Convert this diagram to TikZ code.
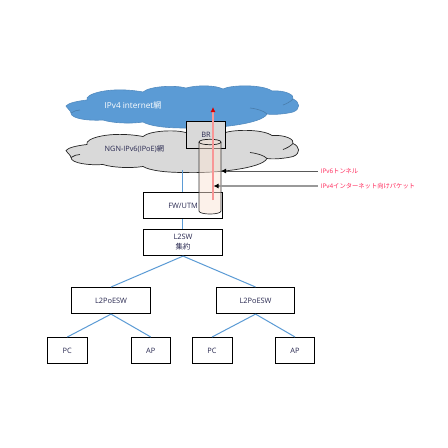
\documentclass[tikz,border=0pt]{standalone}
\usepackage{fontspec}
\usetikzlibrary{arrows.meta}
\setmainfont{Open Sans}
\newfontfamily\jp{Noto Sans CJK JP}
\definecolor{cloudblue}{RGB}{91,155,213}
\definecolor{cloudgray}{RGB}{217,217,217}
\definecolor{tunnelfill}{RGB}{251,229,214}
\definecolor{labelred}{RGB}{255,40,90}
\definecolor{boxtext}{RGB}{40,40,80}
\newcommand{\cloudoutline}{
 (66,106) .. controls (68,103) and (78,101) .. (87,100)
 .. controls (84,94) and (110,86) .. (143,92)
 .. controls (150,86) and (175,85) .. (186,88)
 .. controls (197,85) and (215,85) .. (223,89)
 .. controls (230,85) and (262,84) .. (272,91)
 .. controls (285,90) and (295,95) .. (293,99)
 .. controls (300,102) and (301,109) .. (293,112)
 .. controls (285,114) and (273,115) .. (267,114)
 .. controls (262,124) and (215,129) .. (185,128)
 .. controls (165,128) and (150,126) .. (143,122)
 .. controls (130,124) and (112,123) .. (103,120)
 .. controls (90,121) and (71,119) .. (71,113)
 .. controls (71,111) and (67,108) .. (66,106) -- cycle}
\newcommand{\cloudinner}{
 (71,113) .. controls (74,111) and (77,110) .. (80,110)
 (283,105) .. controls (286,104) and (290,102) .. (293,99)
 (250,108) .. controls (258,109) and (264,111) .. (267,114)}
\begin{document}
\begin{tikzpicture}[x=1pt,y=-1pt,
  boxnode/.style={draw=black,line width=1.1pt,fill=white,anchor=north west,inner sep=0pt,align=center,font=\fontsize{7.4}{10}\selectfont,text=boxtext},
  link/.style={color=cloudblue,line width=1pt},
  lead/.style={draw=black!65,line width=0.9pt,-{Latex[length=5pt,width=5pt,color=black]}},
  plainlabel/.style={anchor=west,inner sep=0pt},
  redlabel/.style={plainlabel,font=\fontsize{6.3}{8}\selectfont,text=labelred}]
\useasboundingbox (0,0) rectangle (448,448);
\fill[white] (0,0) rectangle (448,448);
\begin{scope}[shift={(0,44.5)}]
\draw[line width=0.7pt,draw=black!85,fill=cloudgray] \cloudoutline;
\draw[line width=0.7pt,draw=black!85] \cloudinner;
\end{scope}
\draw[line width=0.6pt,draw=cloudblue!90!black,fill=cloudblue] \cloudoutline;
\draw[line width=0.6pt,draw=cloudblue!80!black] \cloudinner;
\node[plainlabel,font=\fontsize{8.2}{10}\selectfont,text=white] (inet) at (104.5,105) {IPv4 internet{\jp 網}};
\node[plainlabel,font=\fontsize{7.3}{9}\selectfont,text=boxtext] (ngn) at (104.5,149.5) {NGN-IPv6(IPoE){\jp 網}};
% boxes
\node[boxnode,fill=cloudgray,minimum width=39pt,minimum height=27.5pt] (br) at (186,120.5) {BR};
\node[boxnode,minimum width=79pt,minimum height=26pt] (fw) at (143,192) {FW/UTM};
\node[boxnode,minimum width=79pt,minimum height=26pt] (sw) at (143,229) {L2SW\\{\jp 集約}};
\node[boxnode,minimum width=79pt,minimum height=26pt] (pl) at (71,287) {L2PoESW};
\node[boxnode,minimum width=78pt,minimum height=26pt] (pr) at (216,287) {L2PoESW};
\node[boxnode,minimum width=39.5pt,minimum height=26pt] (pc1) at (47,337) {PC};
\node[boxnode,minimum width=39.5pt,minimum height=26pt] (ap1) at (130.5,337) {AP};
\node[boxnode,minimum width=40pt,minimum height=26pt] (pc2) at (191.5,337) {PC};
\node[boxnode,minimum width=39pt,minimum height=26pt] (ap2) at (275,337) {AP};
% links
\coordinate (ngnb) at (182.5,170);
\draw[link] (ngnb) -- (fw.north -| ngnb);
\draw[link] (fw.south -| ngnb) -- (sw.north -| ngnb);
\draw[link] (sw.south) -- (pl.north);
\draw[link] (sw.south) -- (pr.north);
\draw[link] (pl.south) -- (pc1.north);
\draw[link] (pl.south) -- (ap1.north);
\draw[link] (pr.south) -- (pc2.north);
\draw[link] (pr.south) -- (ap2.north);
% tunnel
\fill[tunnelfill,opacity=0.5] (199,142) -- (199,211) .. controls (199,215) and (221,215) .. (221,211) -- (221,142) .. controls (221,139) and (199,139) .. (199,142) -- cycle;
\draw[line width=0.7pt,draw=black!80] (199,142) -- (199,211) .. controls (199,215) and (221,215) .. (221,211) -- (221,142);
\draw[line width=0.7pt,draw=black!90] (199,142) .. controls (199,138.4) and (221,138.4) .. (221,142) .. controls (221,145.6) and (199,145.6) .. (199,142) -- cycle;
\coordinate (pkb) at (213,200);
\coordinate (pkt) at (213,107);
\draw[line width=1.6pt,color={rgb,255:red,248;green,150;blue,150},-{Latex[length=5pt,width=5pt,color=red!85!black]}] (pkb) -- (pkt);
% labels and leaders
\node[redlabel] (lt) at (320.7,171) {IPv6{\jp トンネル}};
\node[redlabel] (lp) at (320.7,186) {IPv4{\jp インターネット向けパケット}};
\coordinate (tt) at (221,171);
\coordinate (pt) at (213.5,186);
\draw[lead] (lt.west) ++(-3,0) -- (tt);
\draw[lead,draw=black!40,line width=1.3pt] (lp.west) ++(-3,0) -- (pt);
\end{tikzpicture}
\end{document}
